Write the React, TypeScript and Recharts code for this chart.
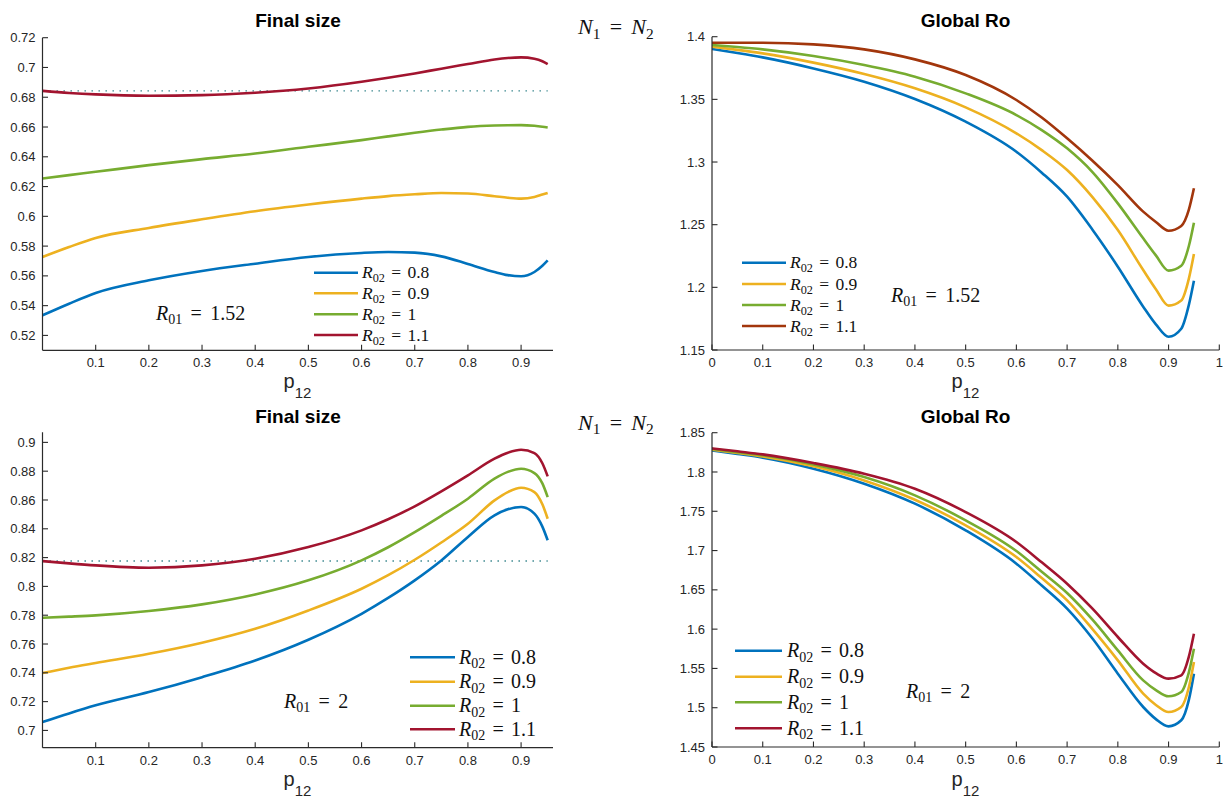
import { LineChart, Line, XAxis, YAxis, ReferenceLine } from 'recharts';

// p12 sample points (shared by all four panels)
const P12 = [0, 0.05, 0.1, 0.2, 0.3, 0.4, 0.5, 0.6, 0.65, 0.7, 0.75, 0.8, 0.85, 0.875, 0.9, 0.925, 0.94, 0.95];
const R02_LABELS = ['0.8', '0.9', '1', '1.1'];

// Final size, R01 = 1.52
const FS1_R08 = [0.5335, 0.5413, 0.5485, 0.557, 0.5633, 0.5682, 0.5727, 0.5754, 0.576, 0.5756, 0.5731, 0.568, 0.5626, 0.5605, 0.5597, 0.5626, 0.5668, 0.5704];
const FS1_R09 = [0.5727, 0.5794, 0.5855, 0.5922, 0.598, 0.6034, 0.6079, 0.6119, 0.6136, 0.6148, 0.6157, 0.6153, 0.6135, 0.6125, 0.6119, 0.613, 0.6146, 0.6157];
const FS1_R10 = [0.6254, 0.6277, 0.6299, 0.6344, 0.6384, 0.6422, 0.6467, 0.6512, 0.6537, 0.6561, 0.6583, 0.6601, 0.661, 0.6612, 0.6613, 0.6608, 0.6602, 0.6597];
const FS1_R11 = [0.6843, 0.6829, 0.6819, 0.681, 0.6814, 0.683, 0.6859, 0.6904, 0.6931, 0.696, 0.6992, 0.7023, 0.7054, 0.7064, 0.7068, 0.7059, 0.7042, 0.7023];
const FS1_BASE = 0.6843;

// Global Ro, R01 = 1.52
const RO1_R08 = [1.3902, 1.387, 1.3835, 1.3747, 1.3641, 1.3503, 1.3322, 1.3082, 1.2915, 1.2723, 1.246, 1.2165, 1.1846, 1.1705, 1.1606, 1.167, 1.186, 1.2053];
const RO1_R09 = [1.392, 1.3895, 1.3867, 1.3793, 1.3702, 1.3588, 1.3436, 1.3229, 1.3095, 1.2936, 1.272, 1.2457, 1.2138, 1.1985, 1.1854, 1.1895, 1.207, 1.2266];
const RO1_R10 = [1.3934, 1.3918, 1.3899, 1.3846, 1.3774, 1.3681, 1.3548, 1.3375, 1.3255, 1.3109, 1.292, 1.267, 1.2391, 1.2255, 1.2133, 1.2172, 1.233, 1.2516];
const RO1_R11 = [1.3952, 1.3952, 1.3952, 1.3939, 1.3899, 1.3819, 1.3694, 1.3495, 1.3355, 1.3189, 1.301, 1.2816, 1.2604, 1.2522, 1.2452, 1.249, 1.262, 1.279];

// Final size, R01 = 2
const FS2_R08 = [0.7058, 0.7118, 0.7174, 0.7266, 0.737, 0.7486, 0.763, 0.781, 0.792, 0.8042, 0.818, 0.8343, 0.8493, 0.8535, 0.8551, 0.8505, 0.8415, 0.832];
const FS2_R09 = [0.7398, 0.7435, 0.7468, 0.7532, 0.7609, 0.7706, 0.7833, 0.7984, 0.8078, 0.8185, 0.8305, 0.8435, 0.8597, 0.8655, 0.8685, 0.8655, 0.857, 0.847];
const FS2_R10 = [0.7782, 0.779, 0.7799, 0.7829, 0.7875, 0.7944, 0.8042, 0.8181, 0.8272, 0.8377, 0.849, 0.8609, 0.8748, 0.8795, 0.8817, 0.8787, 0.8715, 0.862];
const FS2_R11 = [0.8176, 0.816, 0.8146, 0.813, 0.8146, 0.8192, 0.8273, 0.8389, 0.8466, 0.8556, 0.866, 0.8771, 0.8887, 0.8928, 0.8949, 0.8926, 0.8855, 0.8764];
const FS2_BASE = 0.8176;

// Global Ro, R01 = 2
const RO2_R08 = [1.8275, 1.823, 1.8182, 1.8042, 1.7851, 1.7597, 1.7257, 1.6833, 1.6555, 1.626, 1.588, 1.5433, 1.5009, 1.4855, 1.4763, 1.484, 1.51, 1.5433];
const RO2_R09 = [1.8284, 1.8243, 1.8199, 1.8072, 1.7893, 1.7647, 1.7321, 1.6918, 1.665, 1.6366, 1.6, 1.5603, 1.5179, 1.5035, 1.4945, 1.5009, 1.526, 1.5582];
const RO2_R10 = [1.8292, 1.8253, 1.8212, 1.8097, 1.7936, 1.7703, 1.7384, 1.6994, 1.673, 1.646, 1.612, 1.573, 1.5348, 1.5225, 1.5145, 1.52, 1.545, 1.5751];
const RO2_R11 = [1.8301, 1.8263, 1.8224, 1.8114, 1.7978, 1.7787, 1.749, 1.7109, 1.685, 1.6578, 1.626, 1.59, 1.556, 1.544, 1.537, 1.5412, 1.565, 1.5942];

const X_TICKS_FS = [0.1, 0.2, 0.3, 0.4, 0.5, 0.6, 0.7, 0.8, 0.9];
const X_TICKS_RO = [0, 0.1, 0.2, 0.3, 0.4, 0.5, 0.6, 0.7, 0.8, 0.9, 1];
const Y_TICKS_FS1 = [0.52, 0.54, 0.56, 0.58, 0.6, 0.62, 0.64, 0.66, 0.68, 0.7, 0.72];
const Y_TICKS_RO1 = [1.15, 1.2, 1.25, 1.3, 1.35, 1.4];
const Y_TICKS_FS2 = [0.7, 0.72, 0.74, 0.76, 0.78, 0.8, 0.82, 0.84, 0.86, 0.88, 0.9];
const Y_TICKS_RO2 = [1.45, 1.5, 1.55, 1.6, 1.65, 1.7, 1.75, 1.8, 1.85];

const COLORS = ['#0072BD', '#EDB120', '#77AC30', '#A2142F'];
const COLORS_RO1 = ['#0072BD', '#EDB120', '#77AC30', '#A2360C'];

const W = 1231;
const H = 799;
const AXIS = '#2b2b2b';
const SANS = '"Liberation Sans", Arial, Helvetica, sans-serif';
const SERIF = '"Liberation Serif", "Times New Roman", serif';

const fmt = (v: number) => String(Number(v.toFixed(2)));

const XTick = ({ x, y, payload }: any) => (
  <g>
    <line x1={x} x2={x} y1={y} y2={y - 5.5} stroke={AXIS} strokeWidth={1.1} />
    <text x={x} y={y + 17} textAnchor="middle" fontSize={13} fontFamily={SANS} fill="#262626">
      {fmt(payload.value)}
    </text>
  </g>
);

const YTick = ({ x, y, payload }: any) => (
  <g>
    <line x1={x} x2={x + 5.5} y1={y} y2={y} stroke={AXIS} strokeWidth={1.1} />
    <text x={x - 7} y={y + 4.6} textAnchor="end" fontSize={13} fontFamily={SANS} fill="#262626">
      {fmt(payload.value)}
    </text>
  </g>
);

type Box = { left: number; right: number; top: number; bottom: number };

const Panel = ({ box, xDomain, xTicks, yDomain, yTicks, series, colors, base }: {
  box: Box; xDomain: number[]; xTicks: number[]; yDomain: number[]; yTicks: number[];
  series: number[][]; colors: string[]; base?: number;
}) => {
  const data = P12.map((p, i) => {
    const row: any = { p };
    series.forEach((s, k) => { row[`s${k}`] = s[i]; });
    return row;
  });
  return (
    <div style={{ position: 'absolute', left: 0, top: 0 }}>
      <LineChart
        width={W}
        height={H}
        data={data}
        margin={{ top: box.top, left: 0, right: W - box.right, bottom: H - box.bottom - 30 }}
      >
        <XAxis
          type="number"
          dataKey="p"
          domain={xDomain}
          ticks={xTicks}
          interval={0}
          height={30}
          tickSize={0}
          tickMargin={0}
          tickLine={false}
          allowDataOverflow
          axisLine={{ stroke: AXIS, strokeWidth: 1.2 }}
          tick={(props: any) => <XTick {...props} />}
        />
        <YAxis
          type="number"
          domain={yDomain}
          ticks={yTicks}
          interval={0}
          width={box.left}
          tickSize={0}
          tickMargin={0}
          tickLine={false}
          allowDataOverflow
          axisLine={{ stroke: AXIS, strokeWidth: 1.2 }}
          tick={(props: any) => <YTick {...props} />}
        />
        {base !== undefined && (
          <ReferenceLine
            segment={[{ x: P12[0], y: base }, { x: P12[P12.length - 1], y: base }]}
            stroke="#2E8088"
            strokeWidth={1.4}
            strokeDasharray="1.4 5.6"
          />
        )}
        {series.map((_, k) => (
          <Line
            key={k}
            type="monotone"
            dataKey={`s${k}`}
            stroke={colors[k]}
            strokeWidth={2.6}
            dot={false}
            activeDot={false}
            isAnimationActive={false}
          />
        ))}
      </LineChart>
    </div>
  );
};

// italic symbol with upright subscript, then "= rhs"
const Eq = ({ x, y, size, sym, sub, rhs, sym2, sub2, gap = 0.36 }: {
  x: number; y: number; size: number; sym: string; sub: string; rhs?: string; sym2?: string; sub2?: string; gap?: number;
}) => {
  const s = size * 0.7;
  const d = size * 0.22;
  return (
    <text x={x} y={y} fontFamily={SERIF} fontSize={size} fill="#111">
      <tspan fontStyle="italic">{sym}</tspan>
      <tspan fontSize={s} dy={d}>{sub}</tspan>
      <tspan dy={-d} dx={size * gap}>=</tspan>
      {sym2 ? (
        <>
          <tspan fontStyle="italic" dx={size * gap}>{sym2}</tspan>
          <tspan fontSize={s} dy={d}>{sub2}</tspan>
        </>
      ) : (
        <tspan dx={size * gap}>{rhs}</tspan>
      )}
    </text>
  );
};

const LegendBlock = ({ x1, x2, tx, rows, size, colors }: {
  x1: number; x2: number; tx: number; rows: number[]; size: number; colors: string[];
}) => (
  <g>
    {rows.map((ry, k) => (
      <g key={k}>
        <line x1={x1} x2={x2} y1={ry} y2={ry} stroke={colors[k]} strokeWidth={2.6} />
        <Eq x={tx} y={ry + size * 0.33} size={size} sym="R" sub="02" rhs={R02_LABELS[k]} />
      </g>
    ))}
  </g>
);

const P12Label = ({ cx, y }: { cx: number; y: number }) => (
  <text x={cx} y={y} textAnchor="middle" fontFamily={SANS} fontSize={20} fill="#262626">
    <tspan>p</tspan>
    <tspan fontSize={15} dy={10}>12</tspan>
  </text>
);

const Title = ({ cx, y, text }: { cx: number; y: number; text: string }) => (
  <text x={cx} y={y} textAnchor="middle" fontFamily={SANS} fontSize={19} fontWeight="bold" fill="#000">
    {text}
  </text>
);

const BOX_FS1: Box = { left: 42.5, right: 553, top: 37.7, bottom: 350.3 };
const BOX_RO1: Box = { left: 712, right: 1219.3, top: 36.7, bottom: 350 };
const BOX_FS2: Box = { left: 42.5, right: 553, top: 432.3, bottom: 747.7 };
const BOX_RO2: Box = { left: 712, right: 1219.3, top: 432.7, bottom: 747 };

export default function App() {
  return (
    <div style={{ position: 'absolute', left: 0, top: 0, width: W, height: H, background: '#fff', overflow: 'hidden' }}>
      <Panel box={BOX_FS1} xDomain={[0, 0.96]} xTicks={X_TICKS_FS} yDomain={[0.51, 0.72]} yTicks={Y_TICKS_FS1}
        series={[FS1_R08, FS1_R09, FS1_R10, FS1_R11]} colors={COLORS} base={FS1_BASE} />
      <Panel box={BOX_RO1} xDomain={[0, 1]} xTicks={X_TICKS_RO} yDomain={[1.15, 1.4]} yTicks={Y_TICKS_RO1}
        series={[RO1_R08, RO1_R09, RO1_R10, RO1_R11]} colors={COLORS_RO1} />
      <Panel box={BOX_FS2} xDomain={[0, 0.96]} xTicks={X_TICKS_FS} yDomain={[0.688, 0.907]} yTicks={Y_TICKS_FS2}
        series={[FS2_R08, FS2_R09, FS2_R10, FS2_R11]} colors={COLORS} base={FS2_BASE} />
      <Panel box={BOX_RO2} xDomain={[0, 1]} xTicks={X_TICKS_RO} yDomain={[1.45, 1.85]} yTicks={Y_TICKS_RO2}
        series={[RO2_R08, RO2_R09, RO2_R10, RO2_R11]} colors={COLORS} />

      <svg width={W} height={H} style={{ position: 'absolute', left: 0, top: 0, pointerEvents: 'none' }}>
        <Title cx={298} y={27} text="Final size" />
        <Title cx={965.5} y={27} text="Global Ro" />
        <Title cx={298} y={422.5} text="Final size" />
        <Title cx={965.5} y={422.5} text="Global Ro" />

        <Eq x={578} y={34.3} size={22} sym="N" sub="1" sym2="N" sub2="2" gap={0.42} />
        <Eq x={578} y={429.5} size={22} sym="N" sub="1" sym2="N" sub2="2" gap={0.42} />

        <P12Label cx={297.5} y={388} />
        <P12Label cx={965.5} y={388} />
        <P12Label cx={297.5} y={786} />
        <P12Label cx={965.5} y={786} />

        <Eq x={156} y={320} size={20} sym="R" sub="01" rhs="1.52" gap={0.42} />
        <Eq x={891} y={302} size={20} sym="R" sub="01" rhs="1.52" gap={0.42} />
        <Eq x={284} y={708} size={20} sym="R" sub="01" rhs="2" gap={0.42} />
        <Eq x={906} y={698} size={20} sym="R" sub="01" rhs="2" gap={0.42} />

        <LegendBlock x1={314} x2={358} tx={362} rows={[272.7, 293.3, 314.3, 335]} size={17.5} colors={COLORS} />
        <LegendBlock x1={742} x2={786} tx={790} rows={[262.7, 284, 305, 326]} size={17.5} colors={COLORS_RO1} />
        <LegendBlock x1={410} x2={455} tx={459} rows={[657.3, 681.7, 705.7, 729.3]} size={20} colors={COLORS} />
        <LegendBlock x1={735} x2={782} tx={787} rows={[650.7, 676.7, 702.3, 728.3]} size={20} colors={COLORS} />
      </svg>
    </div>
  );
}
